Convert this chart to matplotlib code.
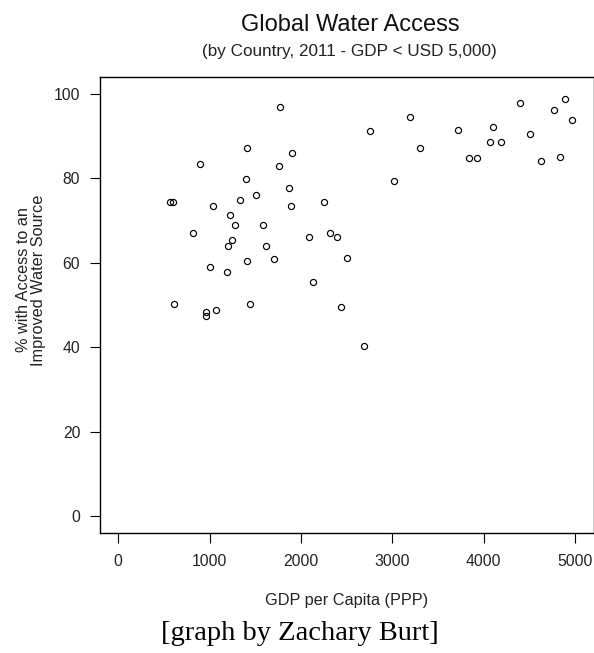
import matplotlib
matplotlib.use("Agg")
import matplotlib.pyplot as plt

plt.rcParams['font.family'] = ['Liberation Sans', 'DejaVu Sans']

gdp = [1767, 1407, 899, 1756, 1393, 564, 600, 1033, 1330, 1509, 1226, 1273, 1586,
       822, 1243, 1196, 1614, 1701, 1407, 1003, 1185, 615, 1436, 960, 960, 1065,
       3195, 2759, 1897, 3301, 3014, 1869, 1894, 2254, 2090, 2312, 2388, 2505,
       2134, 2432, 2690,
       4399, 4893, 4773, 4966, 3719, 4100, 4504, 4072, 4192, 3835, 3926, 4624, 4835]
access = [96.9, 87.2, 83.5, 83.0, 79.9, 74.4, 74.4, 73.4, 74.8, 76.0, 71.4, 68.9, 68.9,
          67.0, 65.4, 64.0, 64.0, 60.9, 60.5, 58.9, 57.7, 50.2, 50.2, 48.4, 47.4, 48.9,
          94.5, 91.2, 86.0, 87.3, 79.3, 77.6, 73.4, 74.4, 66.1, 67.0, 66.1, 61.1,
          55.4, 49.5, 40.2,
          97.9, 98.9, 96.1, 93.8, 91.5, 92.2, 90.6, 88.6, 88.6, 84.7, 84.7, 84.2, 85.1]

xticks = [0, 1000, 2000, 3000, 4000, 5000]
yticks = [0, 20, 40, 60, 80, 100]

W, H = 594, 653
fig = plt.figure(figsize=(W / 100, H / 100), dpi=100)
ax = fig.add_axes([100 / W, 1 - 533 / H, 493.5 / W, 456 / H])

ax.plot(gdp, access, linestyle='none', marker='o', markersize=4.4,
        markerfacecolor='none', markeredgecolor='black', markeredgewidth=0.85)

ax.set_xlim(-200, 5200)
ax.set_ylim(-4, 104)
ax.set_xticks(xticks)
ax.set_yticks(yticks)
ax.tick_params(direction='out', length=7.2, width=0.8, colors='black',
               labelsize=11.3, labelcolor='#222222')
ax.tick_params(axis='x', pad=8)
ax.tick_params(axis='y', pad=7)
for s in ax.spines.values():
    s.set_linewidth(1.0)
    s.set_color('black')

fig.text(347 / W, 1 - 601 / H, 'GDP per Capita (PPP)', ha='center', va='center',
         fontsize=11.7, color='#222222')
fig.text(31 / W, 1 - 280 / H, '% with Access to an\nImproved Water Source',
         ha='center', va='center', rotation=90, fontsize=11.7, color='#222222',
         linespacing=0.95)

fig.text(350 / W, 1 - 31 / H, 'Global Water Access', ha='center', va='baseline',
         fontsize=17, color='#111111')
fig.text(349 / W, 1 - 56 / H, '(by Country, 2011 - GDP < USD 5,000)', ha='center',
         va='baseline', fontsize=12.3, color='#222222')
fig.text(300 / W, 1 - 640 / H, '[graph by Zachary Burt]', ha='center', va='baseline',
         fontsize=20.5, family='Liberation Serif', color='black')

fig.savefig('out.png', dpi=100)
